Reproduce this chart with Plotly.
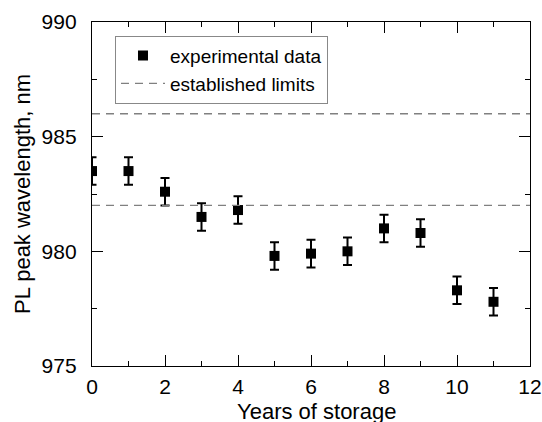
import plotly.graph_objects as go

years = [0, 1, 2, 3, 4, 5, 6, 7, 8, 9, 10, 11]
peak_nm = [983.5, 983.5, 982.6, 981.5, 981.8, 979.8, 979.9, 980.0, 981.0, 980.8, 978.3, 977.8]
err_nm = [0.6] * 12
limits = [986, 982]
x_range = [0, 12]
y_range = [975, 990]
x_title = "Years of storage"
y_title = "PL peak wavelength, nm"

font = "Arial, 'Liberation Sans', sans-serif"

fig = go.Figure()
fig.add_trace(go.Scatter(
    x=years, y=peak_nm, mode="markers", name="experimental data",
    marker=dict(symbol="square", size=10, color="black"),
    error_y=dict(type="data", array=err_nm, visible=True, color="black", thickness=2, width=4.5),
))
for i, lim in enumerate(limits):
    fig.add_trace(go.Scatter(
        x=x_range, y=[lim, lim], mode="lines", name="established limits",
        line=dict(color="#808080", width=1.3, dash="8px,6px"),
        showlegend=(i == 0), hoverinfo="skip",
    ))

axis_common = dict(
    showline=True, linecolor="black", linewidth=1.3, mirror="ticks",
    ticks="inside", ticklen=11, tickwidth=1.3, tickcolor="black",
    showgrid=False, zeroline=False, automargin=False,
    tickfont=dict(family=font, size=21, color="black"),
)
fig.update_xaxes(range=x_range, dtick=2, tick0=0, ticklabelstandoff=2,
                 minor=dict(ticks="inside", ticklen=5, dtick=1, tickcolor="black", tickwidth=1.3),
                 **axis_common)
fig.update_yaxes(range=y_range, dtick=5, tick0=975, ticklabelstandoff=10,
                 minor=dict(ticks="inside", ticklen=5, dtick=2.5, tickcolor="black", tickwidth=1.3),
                 title=dict(text=y_title, font=dict(family=font, size=22, color="black"), standoff=4),
                 **axis_common)

fig.add_annotation(text=x_title, xref="paper", yref="paper", x=0.513, y=0,
                   xanchor="center", yanchor="middle", yshift=-45, showarrow=False,
                   font=dict(family=font, size=22, color="black"))

fig.update_layout(
    width=542, height=422,
    margin=dict(l=92, r=12, t=22, b=56, autoexpand=False),
    paper_bgcolor="white", plot_bgcolor="white",
    showlegend=True,
    legend=dict(x=0.0525, y=0.96, xanchor="left", yanchor="top",
                bordercolor="#888888", borderwidth=1, bgcolor="white",
                font=dict(family=font, size=19, color="black"),
                itemwidth=44, tracegroupgap=0),
)
fig.write_html("out.html", config={"displayModeBar": False},
               post_script="document.body.style.margin='0';document.body.style.overflow='hidden';")
